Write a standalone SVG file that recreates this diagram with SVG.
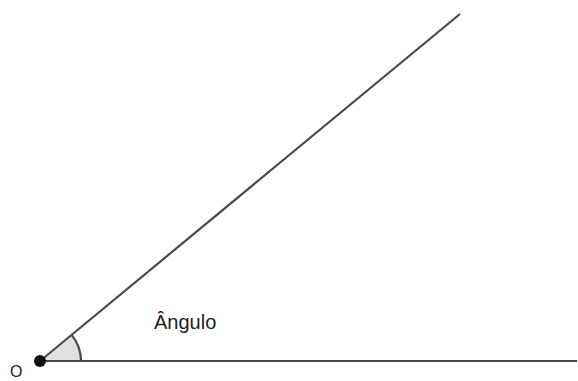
<svg xmlns="http://www.w3.org/2000/svg" width="578" height="381" viewBox="0 0 578 381">
<style>
.ln{stroke:#4a4a4a;stroke-width:2.2;fill:none;stroke-linecap:butt}
.t{font-family:"Liberation Sans",Arial,sans-serif;fill:#222}
</style>
<rect width="578" height="381" fill="#fff"/>
<g id="angle">
<path d="M40,361 L81,361 A41,41 0 0 0 71.6,334.9 Z" fill="#e0e0e0" stroke="none"/>
<path d="M81,361 A41,41 0 0 0 71.6,334.9" class="ln"/>
</g>
<g id="connectors">
<line x1="40" y1="361" x2="577" y2="361" class="ln"/>
<line x1="40" y1="361" x2="460" y2="14" class="ln"/>
</g>
<g id="O">
<circle cx="40" cy="361" r="6" fill="#111"/>
<text x="10" y="377" class="t" font-size="16">O</text>
</g>
<g id="label">
<text x="154" y="329" class="t" font-size="20">Ângulo</text>
</g>
</svg>
